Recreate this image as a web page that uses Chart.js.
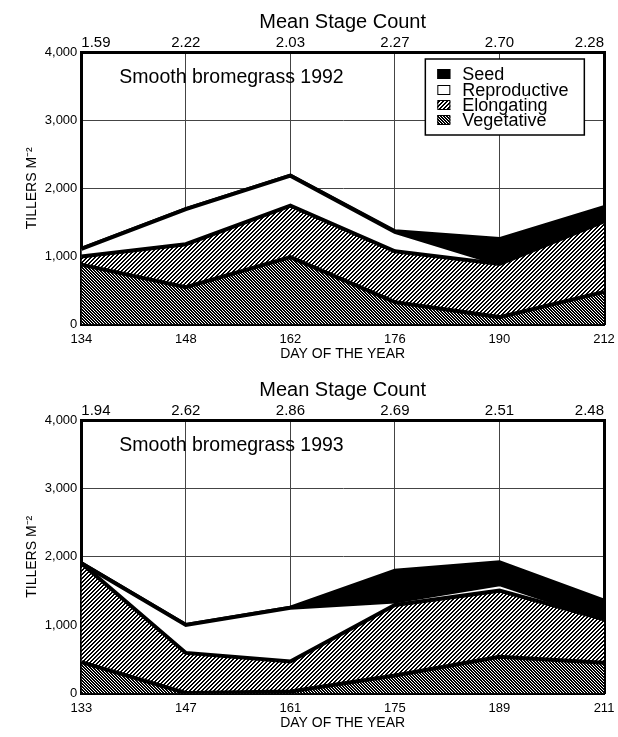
<!DOCTYPE html>
<html>
<head>
<meta charset="utf-8">
<script src="https://cdn.jsdelivr.net/npm/chart.js@4"></script>
<style>
  body { margin: 0; background: #fff; }
  canvas { display: block; }
</style>
</head>
<body>
<canvas id="chart1992" width="618" height="368"></canvas>
<canvas id="chart1993" width="618" height="369"></canvas>
<script>
// ----------- Data (tillers per m2, stacked) -----------
const days1992 = ["134", "148", "162", "176", "190", "212"];
const stage1992 = ["1.59", "2.22", "2.03", "2.27", "2.70", "2.28"];
const vegetative1992 = [880, 550, 990, 330, 110, 480];
const elongating1992 = [120, 630, 755, 745, 780, 1035];
const reproductive1992 = [110, 515, 440, 285, 0, 0];
const seed1992 = [0, 0, 0, 10, 365, 210];

const days1993 = ["133", "147", "161", "175", "189", "211"];
const stage1993 = ["1.94", "2.62", "2.86", "2.69", "2.51", "2.48"];
const vegetative1993 = [460, 10, 30, 265, 540, 450];
const elongating1993 = [1445, 585, 440, 1030, 965, 635];
const reproductive1993 = [0, 410, 785, 50, 95, 5];
const seed1993 = [0, 0, 0, 450, 320, 270];

const yTicks = [0, 1000, 2000, 3000, 4000];
const legendNames = ["Seed", "Reproductive", "Elongating", "Vegetative"];

const FONT = "'Liberation Sans', Arial, Helvetica, sans-serif";

// diagonal hatch tiles, opaque so the grid stays hidden under them
function makeHatch(size, width, slope) {
  const c = document.createElement("canvas");
  c.width = size;
  c.height = size;
  const g = c.getContext("2d");
  g.fillStyle = "#fff";
  g.fillRect(0, 0, size, size);
  g.fillStyle = "#000";
  for (let i = 0; i < size; i++) {
    for (let w = 0; w < width; w++) {
      const x = slope > 0 ? (size - 1 - i + w) % size : (i + w) % size;
      g.fillRect(x, i, 1, 1);
    }
  }
  return g.createPattern(c, "repeat");
}

const vegFill = makeHatch(3, 2, -1);   // "\\\\" dark
const elongFill = makeHatch(4, 2, 1);  // "////" mid grey

// panel caption + boxed legend drawn inside the plot area
const panelText = {
  id: "panelText",
  afterDraw(chart, args, opts) {
    const ctx = chart.ctx;
    const a = chart.chartArea;
    ctx.save();
    ctx.fillStyle = "#000";
    ctx.textBaseline = "middle";
    ctx.textAlign = "left";
    ctx.font = "19.5px " + FONT;
    ctx.fillText(opts.text, a.left + 38, a.top + 26);

    if (opts.legend) {
      const bx = a.left + 344, by = a.top + 7, bw = 159, bh = 76;
      ctx.fillStyle = "#fff";
      ctx.fillRect(bx, by, bw, bh);
      ctx.strokeStyle = "#000";
      ctx.lineWidth = 1.5;
      ctx.strokeRect(bx, by, bw, bh);
      const fills = ["#000", "#fff", elongFill, vegFill];
      const rows = [15, 31, 46, 61];
      ctx.font = "18px " + FONT;
      legendNames.forEach((name, i) => {
        const cy = by + rows[i];
        ctx.fillStyle = fills[i];
        ctx.fillRect(bx + 12, cy - 5, 13, 10);
        ctx.lineWidth = 1;
        ctx.strokeRect(bx + 12.5, cy - 4.5, 12, 9);
        ctx.fillStyle = "#000";
        ctx.fillText(name, bx + 37, cy + 1);
      });
    }
    ctx.restore();
  },
};

function drawPanel(canvasId, days, stages, veg, elong, repro, seed, caption, showLegend) {
  const ctx = document.getElementById(canvasId).getContext("2d");
  const line = { borderColor: "#000", borderWidth: 4, pointRadius: 0, tension: 0 };

  return new Chart(ctx, {
    type: "line",
    data: {
      labels: days,
      datasets: [
        { label: "Vegetative", data: veg, backgroundColor: vegFill, fill: "origin", ...line },
        { label: "Elongating", data: elong, backgroundColor: elongFill, fill: "-1", ...line },
        { label: "Reproductive", data: repro, backgroundColor: "#fff", fill: "-1", ...line },
        { label: "Seed", data: seed, backgroundColor: "#000", fill: "-1", ...line },
      ],
    },
    options: {
      responsive: false,
      animation: false,
      devicePixelRatio: 1,
      layout: { padding: { left: 17, right: 14, top: 10, bottom: 5 } },
      plugins: {
        legend: { display: false },
        tooltip: { enabled: false },
        panelText: { text: caption, legend: showLegend },
      },
      scales: {
        x: {
          type: "category",
          position: "bottom",
          // let the last day label run past the frame, as in the print
          afterFit: (axis) => { axis.paddingRight = 0; },
          grid: { color: "#444", lineWidth: 1, drawTicks: false },
          border: { color: "#000", width: 3 },
          ticks: { color: "#000", font: { family: FONT, size: 13 }, padding: 7, maxRotation: 0, autoSkip: false },
          title: {
            display: true,
            text: "DAY OF THE YEAR",
            color: "#000",
            font: { family: FONT, size: 14 },
            padding: { top: -8, bottom: 0 },
          },
        },
        x2: {
          type: "category",
          labels: stages,
          position: "top",
          afterFit: (axis) => { axis.paddingRight = 0; },
          grid: { drawOnChartArea: false, drawTicks: false },
          border: { color: "#000", width: 3 },
          ticks: { color: "#000", align: "inner", font: { family: FONT, size: 15 }, padding: 0, maxRotation: 0, autoSkip: false },
          title: {
            display: true,
            text: "Mean Stage Count",
            color: "#000",
            font: { family: FONT, size: 20 },
            padding: { top: 0, bottom: 0 },
          },
        },
        y: {
          stacked: true,
          min: 0,
          max: 4000,
          afterBuildTicks: (axis) => { axis.ticks = yTicks.map((v) => ({ value: v })); },
          grid: { color: "#444", lineWidth: 1, drawTicks: false },
          border: { color: "#000", width: 3 },
          ticks: {
            color: "#000",
            font: { family: FONT, size: 13 },
            padding: 4,
            callback: (v) => v.toLocaleString("en-US"),
          },
          title: {
            display: true,
            text: "TILLERS M\u207B\u00B2",
            color: "#000",
            font: { family: FONT, size: 14 },
            padding: { top: 7, bottom: 0 },
          },
        },
        y2: {
          position: "right",
          min: 0,
          max: 4000,
          grid: { drawOnChartArea: false, drawTicks: false },
          border: { color: "#000", width: 3 },
          ticks: { display: false, padding: 0 },
        },
      },
    },
    plugins: [panelText],
  });
}

drawPanel("chart1992", days1992, stage1992, vegetative1992, elongating1992,
  reproductive1992, seed1992, "Smooth bromegrass 1992", true);
drawPanel("chart1993", days1993, stage1993, vegetative1993, elongating1993,
  reproductive1993, seed1993, "Smooth bromegrass 1993", false);
</script>
</body>
</html>
